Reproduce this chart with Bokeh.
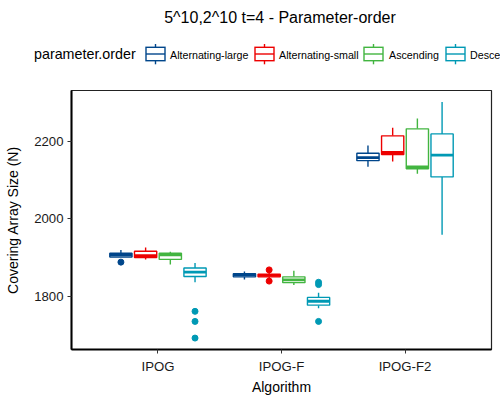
from bokeh.plotting import figure
from bokeh.layouts import column
from bokeh.models import ColumnDataSource, FactorRange, Range1d, FixedTicker, Div
from bokeh.transform import dodge
from bokeh.embed import file_html
from bokeh.resources import INLINE

# ---------------- data ----------------
algorithms = ["IPOG", "IPOG-F", "IPOG-F2"]
orders = ["Alternating-large", "Alternating-small", "Ascending", "Descending"]
colors = ["#00468B", "#ED0000", "#42B540", "#0099B4"]

# box statistics: one row per order, one value per algorithm
lower_whisker = [[1901, 1843, 2134], [1895, 1846, 2148], [1882, 1829, 2116], [1836, 1769, 1959]]
q1_values     = [[1901, 1850, 2150], [1900, 1850, 2166], [1895, 1835, 2129], [1851, 1777, 2108]]
median_values = [[1906, 1855, 2158], [1905, 1854, 2171], [1907, 1842, 2134], [1862, 1787, 2164]]
q3_values     = [[1911, 1858, 2169], [1916, 1857, 2214], [1911, 1850, 2232], [1873, 1797, 2219]]
upper_whisker = [[1919, 1864, 2189], [1926, 1861, 2235], [1915, 1866, 2259], [1886, 1809, 2301]]

outlier_algorithm = ["IPOG", "IPOG-F", "IPOG-F", "IPOG", "IPOG", "IPOG",
                     "IPOG-F", "IPOG-F", "IPOG-F"]
outlier_order = ["Alternating-large", "Alternating-small", "Alternating-small",
                 "Descending", "Descending", "Descending",
                 "Descending", "Descending", "Descending"]
outlier_value = [1888, 1868, 1839, 1761, 1735, 1692, 1836, 1830, 1735]

y_ticks = [1800, 2000, 2200]
y_limits = (1662.5, 2331)

chart_title = "5^10,2^10 t=4 - Parameter-order"
legend_title = "parameter.order"

FONT = "Liberation Sans"
W = 500
HEAD_H = 89
MAIN_H = 311
LEFT, RIGHT = 71, 9

# ---------------- header (title + legend) as inline SVG ----------------
key_x = [155.5, 264.5, 373.5, 455.5]      # legend key centres (layout)
label_x = [170, 279, 389, 470]            # legend label starts (layout)
parts = [f'<svg xmlns="http://www.w3.org/2000/svg" width="{W}" height="{HEAD_H}" '
         f'style="display:block" font-family="{FONT}">']
parts.append(f'<text x="280" y="23.3" text-anchor="middle" font-size="16px" '
             f'fill="black">{chart_title}</text>')
parts.append(f'<text x="34" y="59.3" text-anchor="start" font-size="14.3px" '
             f'fill="black">{legend_title}</text>')
for cx, lx, lab, col in zip(key_x, label_x, orders, colors):
    parts.append(f'<line x1="{cx}" y1="44" x2="{cx}" y2="64.3" stroke="{col}" '
                 f'stroke-width="1.4"/>')
    parts.append(f'<rect x="{cx - 9.5}" y="47.3" width="19" height="13.4" fill="white" '
                 f'stroke="{col}" stroke-width="1.4"/>')
    parts.append(f'<line x1="{cx - 9.5}" y1="54" x2="{cx + 9.5}" y2="54" stroke="{col}" '
                 f'stroke-width="1.4"/>')
    parts.append(f'<text x="{lx}" y="59" text-anchor="start" font-size="10.7px" '
                 f'fill="black">{lab}</text>')
parts.append('</svg>')
head = Div(text="".join(parts), width=W, height=HEAD_H, margin=(0, 0, 0, 0))

# ---------------- main chart ----------------
p = figure(width=W, height=MAIN_H,
           x_range=FactorRange(factors=algorithms, range_padding=0.2,
                               range_padding_units="absolute"),
           y_range=Range1d(*y_limits),
           output_backend="svg", toolbar_location=None,
           min_border_left=LEFT, min_border_right=RIGHT,
           min_border_top=1, min_border_bottom=51)

p.xgrid.visible = False
p.ygrid.visible = False
p.outline_line_color = "#222222"
p.outline_line_width = 1.2

for ax in (p.xaxis[0], p.yaxis[0]):
    ax.axis_line_color = "black"
    ax.axis_line_width = 2
    ax.major_tick_line_color = "#333333"
    ax.major_tick_out = 4
    ax.major_tick_in = 0
    ax.minor_tick_line_color = None
    ax.major_label_text_font = FONT
    ax.major_label_text_font_size = "13.2px"
    ax.major_label_text_color = "#1a1a1a"
    ax.axis_label_text_font = FONT
    ax.axis_label_text_font_size = "14px"
    ax.axis_label_text_font_style = "normal"
    ax.axis_label_text_color = "black"

p.xaxis.axis_label = "Algorithm"
p.xaxis.major_label_standoff = 5
p.xaxis.axis_label_standoff = 2
p.yaxis.axis_label = "Covering Array Size (N)"
p.yaxis.ticker = FixedTicker(ticks=y_ticks)
p.yaxis.major_label_standoff = 4
p.yaxis.axis_label_standoff = 10

offsets = [-0.3, -0.1, 0.1, 0.3]
box_w = 0.18
for i, order in enumerate(orders):
    c = colors[i]
    off = offsets[i]
    src = ColumnDataSource(dict(alg=algorithms, lo=lower_whisker[i], q1=q1_values[i],
                                med=median_values[i], q3=q3_values[i], hi=upper_whisker[i]))
    xc = dodge("alg", off, range=p.x_range)
    p.segment(x0=xc, y0="lo", x1=xc, y1="q1", line_color=c, line_width=1.4, source=src)
    p.segment(x0=xc, y0="q3", x1=xc, y1="hi", line_color=c, line_width=1.4, source=src)
    p.vbar(x=xc, width=box_w, bottom="q1", top="q3", fill_color="white",
           line_color=c, line_width=1.4, source=src)
    p.segment(x0=dodge("alg", off - box_w / 2, range=p.x_range), y0="med",
              x1=dodge("alg", off + box_w / 2, range=p.x_range), y1="med",
              line_color=c, line_width=2.8, source=src)
    o_alg = [a for a, o in zip(outlier_algorithm, outlier_order) if o == order]
    o_val = [v for v, o in zip(outlier_value, outlier_order) if o == order]
    if o_alg:
        osrc = ColumnDataSource(dict(alg=o_alg, val=o_val))
        p.scatter(x=xc, y="val", size=6, fill_color=c, line_color=c, source=osrc)

layout = column(head, p, spacing=0)
open("out.html", "w").write(file_html(layout, INLINE))
